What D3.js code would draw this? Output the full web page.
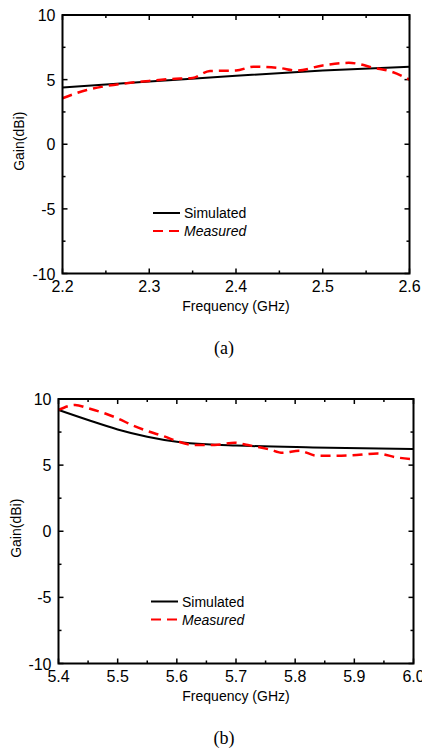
<!DOCTYPE html>
<html>
<head>
<meta charset="utf-8">
<script src="https://cdn.jsdelivr.net/npm/d3@7"></script>
<style>
  body { margin: 0; background: #fff; }
  svg { display: block; font-family: "Liberation Sans", Arial, sans-serif; }
</style>
</head>
<body>
<script>
// data
const freqA = [2.2, 2.3, 2.4, 2.5, 2.6];
const simA = [4.4, 4.85, 5.3, 5.7, 6.0];
const measFreqA = [2.2, 2.228, 2.25, 2.3, 2.325, 2.35, 2.37, 2.4, 2.42, 2.45, 2.47, 2.5, 2.53, 2.56, 2.58, 2.6];
const measA = [3.56, 4.2, 4.5, 4.9, 5.05, 5.13, 5.67, 5.7, 6.0, 5.9, 5.7, 6.1, 6.3, 5.9, 5.6, 5.0];

const freqB = [5.4, 5.45, 5.5, 5.55, 5.6, 5.65, 5.7, 5.83, 6.0];
const simB = [9.17, 8.41, 7.7, 7.15, 6.77, 6.57, 6.48, 6.34, 6.21];
const measFreqB = [5.4, 5.428, 5.45, 5.479, 5.5, 5.524, 5.55, 5.58, 5.6, 5.63, 5.664, 5.698, 5.72, 5.756,
  5.779, 5.807, 5.836, 5.87, 5.904, 5.939, 5.972, 6.0];
const measB = [9.17, 9.55, 9.3, 8.9, 8.54, 8.03, 7.58, 7.15, 6.82, 6.52, 6.52, 6.69, 6.52, 6.19,
  5.93, 6.09, 5.71, 5.71, 5.76, 5.88, 5.58, 5.45];

const xTicksA = [2.2, 2.3, 2.4, 2.5, 2.6];
const xTicksB = [5.4, 5.5, 5.6, 5.7, 5.8, 5.9, 6.0];
const yTicks = [-10, -5, 0, 5, 10];
const legendNames = ["Simulated", "Measured"];

const svg = d3.select("body").append("svg")
  .attr("width", 422)
  .attr("height", 749);

drawPanel({
  left: 62.5, right: 409.5, top: 15, bottom: 273.5,
  domain: [2.2, 2.6], ticks: xTicksA, minorStep: 0.05,
  sx: freqA, sy: simA, mx: measFreqA, my: measA,
  yLabelX: 19, legendX: 153, legendY: 213,
  caption: "(a)"
});

drawPanel({
  left: 58.5, right: 413.5, top: 399, bottom: 663.5,
  domain: [5.4, 6.0], ticks: xTicksB, minorStep: 0.05,
  sx: freqB, sy: simB, mx: measFreqB, my: measB,
  yLabelX: 16, legendX: 151, legendY: 601.5,
  caption: "(b)"
});

function drawPanel(p) {
  const x = d3.scaleLinear().domain(p.domain).range([p.left, p.right]);
  const y = d3.scaleLinear().domain([-10, 10]).range([p.bottom, p.top]);
  const g = svg.append("g");

  const minorX = d3.range(p.domain[0], p.domain[1] + 1e-9, p.minorStep);
  const minorY = d3.range(-10, 10.01, 2.5);

  // inward ticks on all four sides
  minorX.forEach((v, i) => {
    const len = i % 2 === 0 ? 5 : 3;
    g.append("line").attr("x1", x(v)).attr("x2", x(v))
      .attr("y1", p.bottom).attr("y2", p.bottom - len).attr("stroke", "#000").attr("stroke-width", 1.5);
    g.append("line").attr("x1", x(v)).attr("x2", x(v))
      .attr("y1", p.top).attr("y2", p.top + len).attr("stroke", "#000").attr("stroke-width", 1.5);
  });
  minorY.forEach((v, i) => {
    const len = i % 2 === 0 ? 5 : 3;
    g.append("line").attr("x1", p.left).attr("x2", p.left + len)
      .attr("y1", y(v)).attr("y2", y(v)).attr("stroke", "#000").attr("stroke-width", 1.5);
    g.append("line").attr("x1", p.right).attr("x2", p.right - len)
      .attr("y1", y(v)).attr("y2", y(v)).attr("stroke", "#000").attr("stroke-width", 1.5);
  });

  // curves
  const line = d3.line().curve(d3.curveMonotoneX);
  const simPts = p.sx.map((f, i) => [x(f), y(p.sy[i])]);
  const measPts = p.mx.map((f, i) => [x(f), y(p.my[i])]);

  g.append("path").attr("d", line(simPts))
    .attr("fill", "none").attr("stroke", "#000").attr("stroke-width", 2);
  g.append("path").attr("d", line(measPts))
    .attr("fill", "none").attr("stroke", "#f00").attr("stroke-width", 2.5)
    .attr("stroke-dasharray", "10,6");

  // frame
  g.append("rect")
    .attr("x", p.left).attr("y", p.top)
    .attr("width", p.right - p.left).attr("height", p.bottom - p.top)
    .attr("fill", "none").attr("stroke", "#000").attr("stroke-width", 2);

  // tick labels
  g.selectAll(".xl").data(p.ticks).enter().append("text")
    .attr("x", d => x(d)).attr("y", p.bottom + 18.5)
    .attr("text-anchor", "middle").attr("font-size", 16)
    .text(d => d.toFixed(1));
  g.selectAll(".yl").data(yTicks).enter().append("text")
    .attr("x", p.left - 7).attr("y", d => y(d) + 6)
    .attr("text-anchor", "end").attr("font-size", 16)
    .text(d => d);

  // axis titles
  g.append("text")
    .attr("x", (p.left + p.right) / 2).attr("y", p.bottom + 37)
    .attr("text-anchor", "middle").attr("font-size", 14)
    .text("Frequency (GHz)");
  g.append("text")
    .attr("transform", `translate(${p.yLabelX + 5},${(p.top + p.bottom) / 2 - 3}) rotate(-90)`)
    .attr("text-anchor", "middle").attr("font-size", 14)
    .text("Gain(dBi)");

  // legend
  g.append("line").attr("x1", p.legendX).attr("x2", p.legendX + 27)
    .attr("y1", p.legendY).attr("y2", p.legendY).attr("stroke", "#000").attr("stroke-width", 2);
  g.append("line").attr("x1", p.legendX).attr("x2", p.legendX + 27)
    .attr("y1", p.legendY + 18).attr("y2", p.legendY + 18).attr("stroke", "#f00").attr("stroke-width", 2)
    .attr("stroke-dasharray", "10,6");
  g.append("text").attr("x", p.legendX + 31).attr("y", p.legendY + 5)
    .attr("font-size", 14).text(legendNames[0]);
  g.append("text").attr("x", p.legendX + 31).attr("y", p.legendY + 23)
    .attr("font-size", 14).attr("font-style", "italic").text(legendNames[1]);

  // caption
  svg.append("text")
    .attr("x", 224).attr("y", p.bottom + 80)
    .attr("text-anchor", "middle")
    .attr("font-family", "'Liberation Serif', 'Times New Roman', serif")
    .attr("font-size", 18)
    .text(p.caption);
}
</script>
</body>
</html>
